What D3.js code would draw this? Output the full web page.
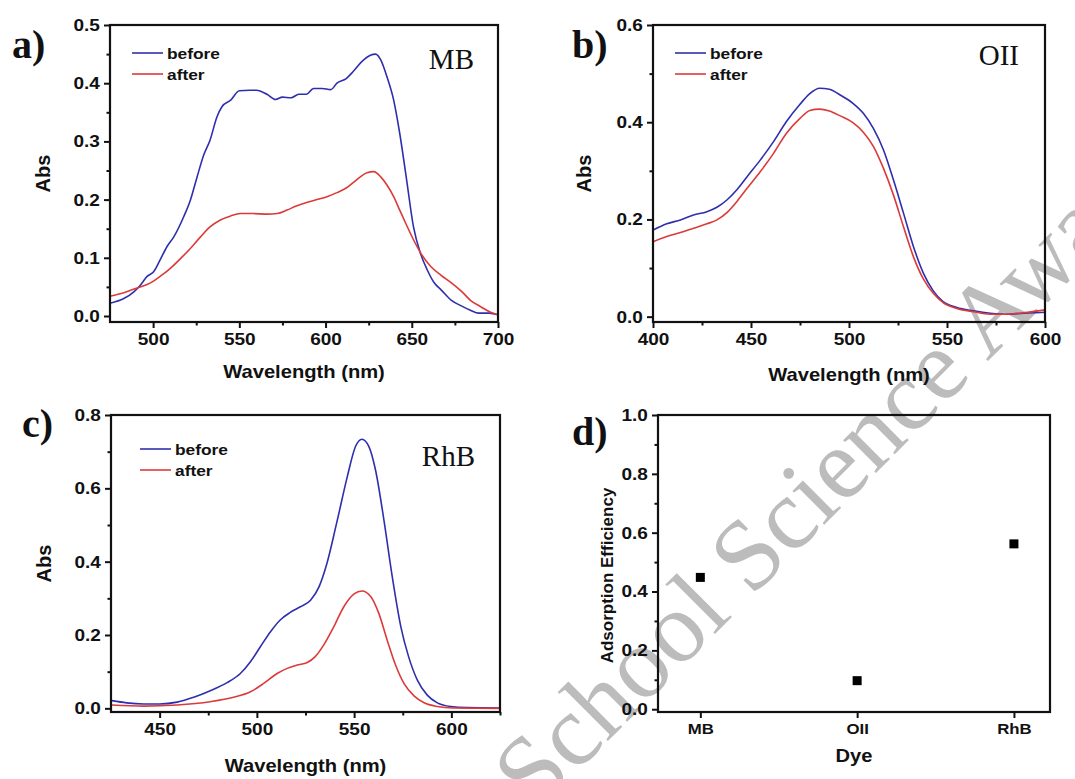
<!DOCTYPE html>
<html>
<head>
<meta charset="utf-8">
<script src="https://cdn.jsdelivr.net/npm/d3@7"></script>
<style>
  body { margin: 0; background: #fff; }
  svg { display: block; }
</style>
</head>
<body>
<svg id="fig" width="1075" height="779"></svg>
<script>
// ---------------- Data ----------------
// (a) Methylene blue spectra
const mbBeforeNm  = [475, 483, 489, 492.6, 496.5, 500.3, 504, 508, 512, 517.8, 521.6, 525.5, 529.4, 533, 537, 540, 545, 550, 556, 560, 566, 571, 575, 580, 584.5, 589, 593, 598, 603, 606.6, 612, 616, 621, 626, 629, 632, 635.6, 639.5, 643, 647, 651, 655, 659, 663, 667, 673, 679, 684, 688.8, 695, 700];
const mbBeforeAbs = [0.022, 0.030, 0.042, 0.053, 0.068, 0.076, 0.096, 0.119, 0.136, 0.171, 0.199, 0.239, 0.277, 0.302, 0.342, 0.360, 0.371, 0.387, 0.388, 0.388, 0.381, 0.372, 0.376, 0.375, 0.381, 0.381, 0.391, 0.391, 0.389, 0.400, 0.408, 0.420, 0.437, 0.448, 0.450, 0.440, 0.411, 0.371, 0.314, 0.234, 0.153, 0.108, 0.079, 0.057, 0.045, 0.027, 0.017, 0.010, 0.005, 0.005, 0.002];
const mbAfterNm   = [475, 483, 490.7, 498.5, 504, 510, 516, 521.6, 527.5, 533, 539, 545, 550.6, 558, 566, 572, 577.6, 583, 589, 595, 600.8, 606.6, 612, 618, 624, 628, 632, 635.6, 639.5, 643, 647, 651, 655, 661, 667, 673, 679, 684, 690, 696, 700];
const mbAfterAbs  = [0.034, 0.040, 0.048, 0.057, 0.068, 0.082, 0.099, 0.116, 0.136, 0.153, 0.165, 0.172, 0.176, 0.176, 0.175, 0.176, 0.182, 0.189, 0.195, 0.200, 0.205, 0.212, 0.220, 0.234, 0.246, 0.248, 0.239, 0.225, 0.205, 0.182, 0.156, 0.131, 0.109, 0.085, 0.070, 0.057, 0.042, 0.027, 0.016, 0.006, 0.002];

// (b) Orange II spectra
const oiiBeforeNm  = [400, 407, 414, 420.7, 427.5, 432.6, 437.7, 442.8, 448, 454.7, 461.5, 468, 475, 480, 485, 490, 495.5, 502, 507.4, 512.5, 517.6, 522.7, 527.8, 532.9, 538, 543, 548, 555, 563.5, 572, 580.5, 589, 600];
const oiiBeforeAbs = [0.178, 0.191, 0.199, 0.209, 0.216, 0.225, 0.240, 0.261, 0.288, 0.322, 0.360, 0.401, 0.437, 0.459, 0.470, 0.468, 0.456, 0.439, 0.418, 0.387, 0.343, 0.281, 0.213, 0.144, 0.089, 0.053, 0.031, 0.019, 0.012, 0.007, 0.005, 0.007, 0.009];
const oiiAfterNm   = [400, 407, 414, 420.7, 427.5, 432.6, 437.7, 442.8, 448, 454.7, 461.5, 468, 475, 480, 485, 490, 495.5, 502, 507.4, 512.5, 517.6, 522.7, 527.8, 532.9, 538, 543, 548, 555, 563.5, 572, 580.5, 589, 600];
const oiiAfterAbs  = [0.154, 0.165, 0.173, 0.182, 0.191, 0.199, 0.214, 0.237, 0.264, 0.298, 0.336, 0.377, 0.408, 0.424, 0.427, 0.423, 0.413, 0.399, 0.379, 0.350, 0.305, 0.250, 0.185, 0.123, 0.077, 0.048, 0.029, 0.017, 0.010, 0.005, 0.005, 0.008, 0.014];

// (c) Rhodamine B spectra
const rhbBeforeNm  = [425.5, 433, 441.8, 450, 459, 467.5, 476, 484.7, 491.5, 496.7, 501.8, 507, 512, 517, 522.4, 527.6, 532, 536, 541, 546.5, 550.7, 554, 557.6, 561, 565.3, 569.6, 574, 578, 582.5, 587.6, 592.8, 599.7, 608, 625];
const rhbBeforeAbs = [0.021, 0.015, 0.012, 0.012, 0.017, 0.030, 0.048, 0.070, 0.095, 0.127, 0.168, 0.209, 0.241, 0.261, 0.277, 0.295, 0.332, 0.395, 0.505, 0.632, 0.714, 0.734, 0.714, 0.650, 0.514, 0.359, 0.223, 0.141, 0.077, 0.036, 0.015, 0.005, 0.002, 0.001];
const rhbAfterNm   = [425.5, 441.8, 459, 476, 488, 496.7, 503.5, 510.4, 515.6, 520.7, 525.9, 530, 534.4, 539.6, 544.7, 550, 554, 558.5, 562.7, 567, 571.3, 575.6, 580.8, 586, 592.8, 601, 625];
const rhbAfterAbs  = [0.009, 0.006, 0.009, 0.018, 0.030, 0.045, 0.068, 0.095, 0.109, 0.118, 0.125, 0.141, 0.173, 0.223, 0.277, 0.312, 0.320, 0.305, 0.259, 0.186, 0.118, 0.068, 0.034, 0.015, 0.005, 0.001, 0.000];

// (d) Adsorption efficiency per dye
const dyeNames = ["MB", "OII", "RhB"];
const dyeEfficiency = [0.448, 0.097, 0.562];

const seriesLabels = ["before", "after"];
const spectrumTitles = ["MB", "OII", "RhB"];

// ---------------- Drawing ----------------
const BLUE = "#2f2fae";
const RED = "#dc3a3a";
const SANS = "'Liberation Sans', Arial, sans-serif";
const SERIF = "'Liberation Serif', 'Times New Roman', serif";
const WIDE = "scale(1.12,1)";   // slightly widened lettering, as in the printed figure

const svg = d3.select("#fig");

// light grey diagonal watermark lettering behind the plots
svg.append("text")
  .attr("transform", "translate(535,814) rotate(-45)")
  .attr("font-family", SERIF)
  .attr("font-size", 101)
  .attr("fill", "#bcbcbc")
  .text("School Science Awa");

const zip = (xs, ys) => xs.map((x, i) => [x, ys[i]]);
const range = (a, b, s) => d3.range(a, b + s / 2, s).map(v => +v.toFixed(4));

function drawFrame(g, box) {
  g.append("rect")
    .attr("x", box.left).attr("y", box.top)
    .attr("width", box.right - box.left).attr("height", box.bottom - box.top)
    .attr("fill", "none").attr("stroke", "#111").attr("stroke-width", 2.2);
}

// bold sans text placed at (x, y); horizontal text is widened slightly
function wideText(g, x, y, str, size, opts = {}) {
  return g.append("text")
    .attr("transform", `translate(${x},${y}) ${opts.rotate ? "rotate(-90)" : WIDE}`)
    .attr("text-anchor", opts.anchor || "middle")
    .attr("dominant-baseline", opts.baseline || "auto")
    .attr("font-family", SANS).attr("font-weight", "bold").attr("font-size", size)
    .attr("fill", "#111").text(str);
}

function drawAxes(g, box, x, y, o) {
  const styleTicks = sel => {
    sel.select(".domain").remove();
    sel.selectAll("line").attr("stroke", "#111").attr("stroke-width", 2);
    sel.selectAll("text")
      .attr("font-family", SANS).attr("font-weight", "bold")
      .attr("font-size", 17).attr("fill", "#111")
      .attr("transform", WIDE);
  };
  // x: major + minor
  g.append("g").attr("transform", `translate(0,${box.bottom})`)
    .call(d3.axisBottom(x).tickValues(o.xMajor).tickSize(6).tickPadding(5)
      .tickFormat(o.xFormat))
    .call(styleTicks)
    .call(sel => { if (o.xTickSize) sel.selectAll("text").attr("font-size", o.xTickSize); });
  g.append("g").attr("transform", `translate(0,${box.bottom})`)
    .call(d3.axisBottom(x).tickValues(o.xMinor).tickSize(3.5).tickFormat(""))
    .call(styleTicks);
  // y: major + minor
  g.append("g").attr("transform", `translate(${box.left},0)`)
    .call(d3.axisLeft(y).tickValues(o.yMajor).tickSize(6).tickPadding(3)
      .tickFormat(d3.format(".1f")))
    .call(styleTicks);
  g.append("g").attr("transform", `translate(${box.left},0)`)
    .call(d3.axisLeft(y).tickValues(o.yMinor).tickSize(3.5).tickFormat(""))
    .call(styleTicks);

  // axis titles
  wideText(g, (box.left + box.right) / 2, o.xTitleY, o.xTitle, o.xTitleSize || 18);
  wideText(g, o.yTitleX, (box.top + box.bottom) / 2 + (o.yTitleDy || 0), o.yTitle,
    o.yTitleSize || 20, { rotate: true, baseline: "central" });
}

function panelLetter(g, label, px, py) {
  g.append("text").attr("x", px).attr("y", py)
    .attr("font-family", SERIF).attr("font-weight", "bold").attr("font-size", 40)
    .attr("fill", "#111").text(label);
}

function spectrumPanel(o) {
  const g = svg.append("g");
  const box = o.box;
  const x = d3.scaleLinear().domain(o.xDomain).range([box.left, box.right]);
  const y = d3.scaleLinear().domain(o.yDomain).range([box.bottom, box.top]);

  const line = d3.line().x(d => x(d[0])).y(d => y(d[1])).curve(d3.curveMonotoneX);
  const clipId = "clip-" + o.name;
  g.append("clipPath").attr("id", clipId).append("rect")
    .attr("x", box.left).attr("y", box.top)
    .attr("width", box.right - box.left).attr("height", box.bottom - box.top);

  const series = [
    { pts: zip(o.beforeNm, o.beforeAbs), color: BLUE },
    { pts: zip(o.afterNm, o.afterAbs), color: RED }
  ];
  g.append("g").attr("clip-path", `url(#${clipId})`)
    .selectAll("path").data(series).join("path")
    .attr("d", d => line(d.pts))
    .attr("fill", "none").attr("stroke", d => d.color).attr("stroke-width", 1.6);

  drawFrame(g, box);
  drawAxes(g, box, x, y, o);

  // legend
  const lg = g.append("g");
  seriesLabels.forEach((lab, i) => {
    const ly = o.legend.y + i * 21;
    lg.append("line")
      .attr("x1", o.legend.x).attr("x2", o.legend.x + 31)
      .attr("y1", ly).attr("y2", ly)
      .attr("stroke", series[i].color).attr("stroke-width", 1.6);
    wideText(lg, o.legend.x + 35, ly, lab, 15.5, { anchor: "start", baseline: "central" });
  });

  // dye name, top-right
  g.append("text")
    .attr("x", o.title.x).attr("y", o.title.y).attr("text-anchor", "end")
    .attr("font-family", SERIF).attr("font-size", 29).attr("fill", "#111")
    .text(o.titleText);

  panelLetter(g, o.letter, o.letterPos[0], o.letterPos[1]);
}

spectrumPanel({
  name: "a", letter: "a)", letterPos: [12, 58], titleText: spectrumTitles[0],
  box: { left: 110, right: 498, top: 25, bottom: 322 },
  xDomain: [475, 700], yDomain: [-0.0103, 0.5],
  xMajor: range(500, 700, 50), xMinor: range(525, 675, 50), xFormat: d3.format("d"),
  yMajor: range(0, 0.5, 0.1), yMinor: range(0.05, 0.45, 0.1),
  beforeNm: mbBeforeNm, beforeAbs: mbBeforeAbs, afterNm: mbAfterNm, afterAbs: mbAfterAbs,
  legend: { x: 132, y: 53 }, title: { x: 474, y: 69 },
  xTitle: "Wavelength (nm)", xTitleY: 378, yTitle: "Abs", yTitleX: 43
});

spectrumPanel({
  name: "b", letter: "b)", letterPos: [572, 58], titleText: spectrumTitles[1],
  box: { left: 653, right: 1045, top: 25, bottom: 322 },
  xDomain: [400, 600], yDomain: [-0.011, 0.6],
  xMajor: range(400, 600, 50), xMinor: range(425, 575, 50), xFormat: d3.format("d"),
  yMajor: range(0, 0.6, 0.2), yMinor: range(0.1, 0.5, 0.2),
  beforeNm: oiiBeforeNm, beforeAbs: oiiBeforeAbs, afterNm: oiiAfterNm, afterAbs: oiiAfterAbs,
  legend: { x: 675, y: 53 }, title: { x: 1019, y: 65 },
  xTitle: "Wavelength (nm)", xTitleY: 381, yTitle: "Abs", yTitleX: 584
});

spectrumPanel({
  name: "c", letter: "c)", letterPos: [22, 437], titleText: spectrumTitles[2],
  box: { left: 111, right: 500, top: 415, bottom: 712 },
  xDomain: [425, 625], yDomain: [-0.010, 0.8],
  xMajor: range(450, 600, 50), xMinor: range(475, 625, 50), xFormat: d3.format("d"),
  yMajor: range(0, 0.8, 0.2), yMinor: range(0.1, 0.7, 0.2),
  beforeNm: rhbBeforeNm, beforeAbs: rhbBeforeAbs, afterNm: rhbAfterNm, afterAbs: rhbAfterAbs,
  legend: { x: 140, y: 449 }, title: { x: 475, y: 466 },
  xTitle: "Wavelength (nm)", xTitleY: 772, yTitle: "Abs", yTitleX: 44
});

// (d) efficiency scatter
(function () {
  const g = svg.append("g");
  const box = { left: 658, right: 1050, top: 415, bottom: 712 };
  const x = d3.scaleLinear().domain([0.73, 3.23]).range([box.left, box.right]);
  const y = d3.scaleLinear().domain([-0.0095, 1.0]).range([box.bottom, box.top]);

  drawFrame(g, box);
  drawAxes(g, box, x, y, {
    xMajor: [1, 2, 3], xMinor: [], xFormat: i => dyeNames[i - 1], xTickSize: 15,
    yMajor: range(0, 1, 0.2), yMinor: range(0.1, 0.9, 0.2),
    xTitle: "Dye", xTitleY: 762, xTitleSize: 18,
    yTitle: "Adsorption Efficiency", yTitleX: 607, yTitleSize: 17, yTitleDy: 12
  });

  const s = 9;
  g.selectAll("rect.pt").data(dyeEfficiency).join("rect")
    .attr("class", "pt")
    .attr("x", (d, i) => x(i + 1) - s / 2).attr("y", d => y(d) - s / 2)
    .attr("width", s).attr("height", s).attr("fill", "#000");

  panelLetter(g, "d)", 572, 445);
})();
</script>
</body>
</html>
